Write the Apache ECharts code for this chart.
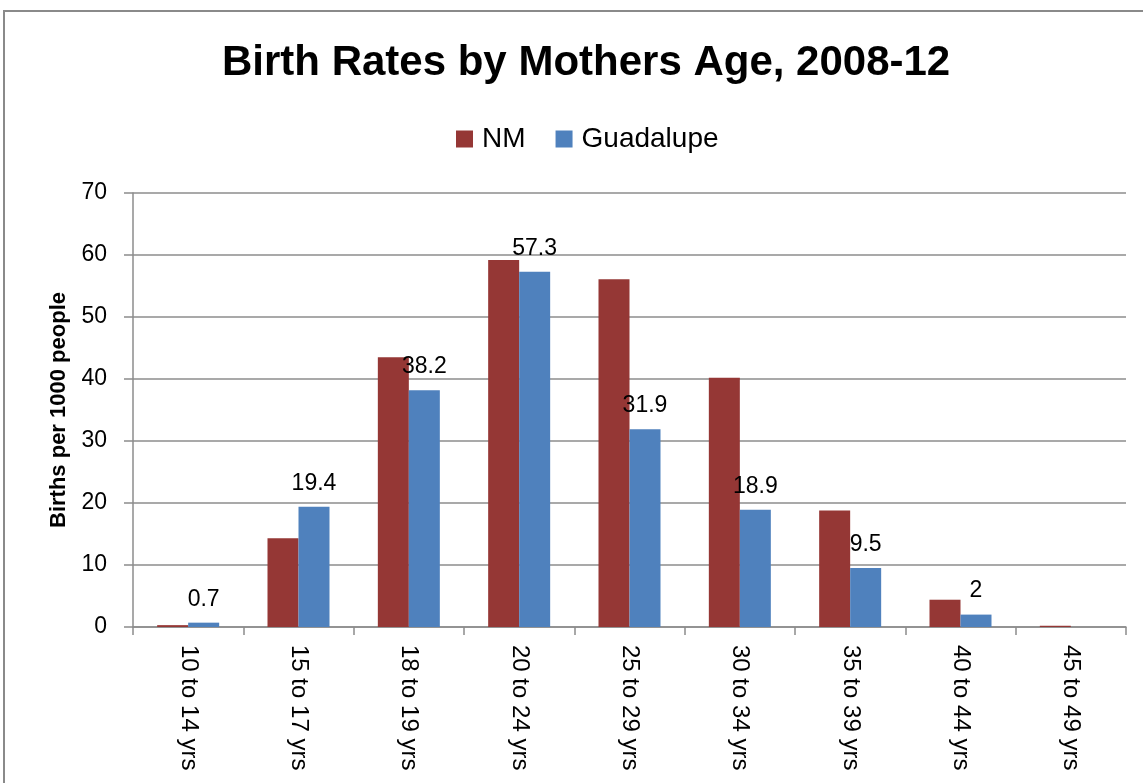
<!DOCTYPE html>
<html>
<head>
<meta charset="utf-8">
<title>Birth Rates by Mothers Age</title>
<script src="https://cdn.jsdelivr.net/npm/echarts@6/dist/echarts.min.js"></script>
<style>
  html, body { margin: 0; padding: 0; background: #fff; }
  #main { width: 1143px; height: 783px; }
</style>
</head>
<body>
<div id="main"></div>
<script>
// 数据
var ageGroups = ['10 to 14 yrs', '15 to 17 yrs', '18 to 19 yrs', '20 to 24 yrs', '25 to 29 yrs',
  '30 to 34 yrs', '35 to 39 yrs', '40 to 44 yrs', '45 to 49 yrs'];
var nmRates = [0.3, 14.3, 43.5, 59.2, 56.1, 40.2, 18.8, 4.4, 0.2];
var guadalupeRates = [0.7, 19.4, 38.2, 57.3, 31.9, 18.9, 9.5, 2, null];
var yTicks = [0, 10, 20, 30, 40, 50, 60, 70];

var myChart = echarts.init(document.getElementById('main'));
var baseFont = 'Liberation Sans';
var gridGray = '#8c8c8c';

var option = {
  backgroundColor: '#fff',
  animation: false,
  title: {
    text: 'Birth Rates by Mothers Age, 2008-12',
    left: 217,
    top: 37,
    textStyle: {
      fontFamily: baseFont,
      fontWeight: 'bold',
      fontSize: 42,
      color: '#000'
    }
  },
  legend: {
    top: 120,
    left: 451,
    itemWidth: 17,
    itemHeight: 17,
    itemGap: 30,
    icon: 'rect',
    textStyle: { fontFamily: baseFont, fontSize: 28, color: '#000', padding: [0, 0, 0, 4] },
    data: ['NM', 'Guadalupe']
  },
  // 外框
  graphic: [{
    type: 'rect',
    shape: { x: 4, y: 11, width: 1160, height: 800 },
    style: { fill: 'none', stroke: '#8a8a8a', lineWidth: 2 },
    silent: true
  }],
  grid: {
    left: 133,
    right: 17,
    top: 193,
    bottom: 156
  },
  xAxis: {
    type: 'category',
    data: ageGroups,
    axisLine: { lineStyle: { color: gridGray, width: 1.5 } },
    axisTick: { show: true, length: 8, lineStyle: { color: gridGray, width: 1.5 } },
    axisLabel: {
      rotate: -90,
      margin: 18,
      fontFamily: baseFont,
      fontSize: 24,
      color: '#000'
    }
  },
  yAxis: {
    type: 'value',
    min: yTicks[0],
    max: yTicks[yTicks.length - 1],
    interval: 10,
    name: 'Births per 1000 people',
    nameLocation: 'middle',
    nameRotate: 90,
    nameGap: 63,
    nameTextStyle: {
      fontFamily: baseFont,
      fontWeight: 'bold',
      fontSize: 22,
      color: '#000'
    },
    axisLine: { show: true, lineStyle: { color: gridGray, width: 1.5 } },
    axisTick: { show: true, length: 9, lineStyle: { color: gridGray, width: 1.5 } },
    axisLabel: {
      margin: 26,
      fontFamily: baseFont,
      fontSize: 23,
      color: '#000'
    },
    splitLine: { lineStyle: { color: gridGray, width: 1.5 } }
  },
  series: [
    {
      name: 'NM',
      type: 'bar',
      barWidth: 31,
      barGap: '0%',
      itemStyle: { color: '#953735' },
      data: nmRates
    },
    {
      name: 'Guadalupe',
      type: 'bar',
      barWidth: 31,
      barGap: '0%',
      itemStyle: { color: '#4f81bd' },
      label: {
        show: true,
        position: 'top',
        distance: 12,
        fontFamily: baseFont,
        fontSize: 23,
        color: '#000'
      },
      data: guadalupeRates
    }
  ]
};

myChart.setOption(option);
</script>
</body>
</html>
